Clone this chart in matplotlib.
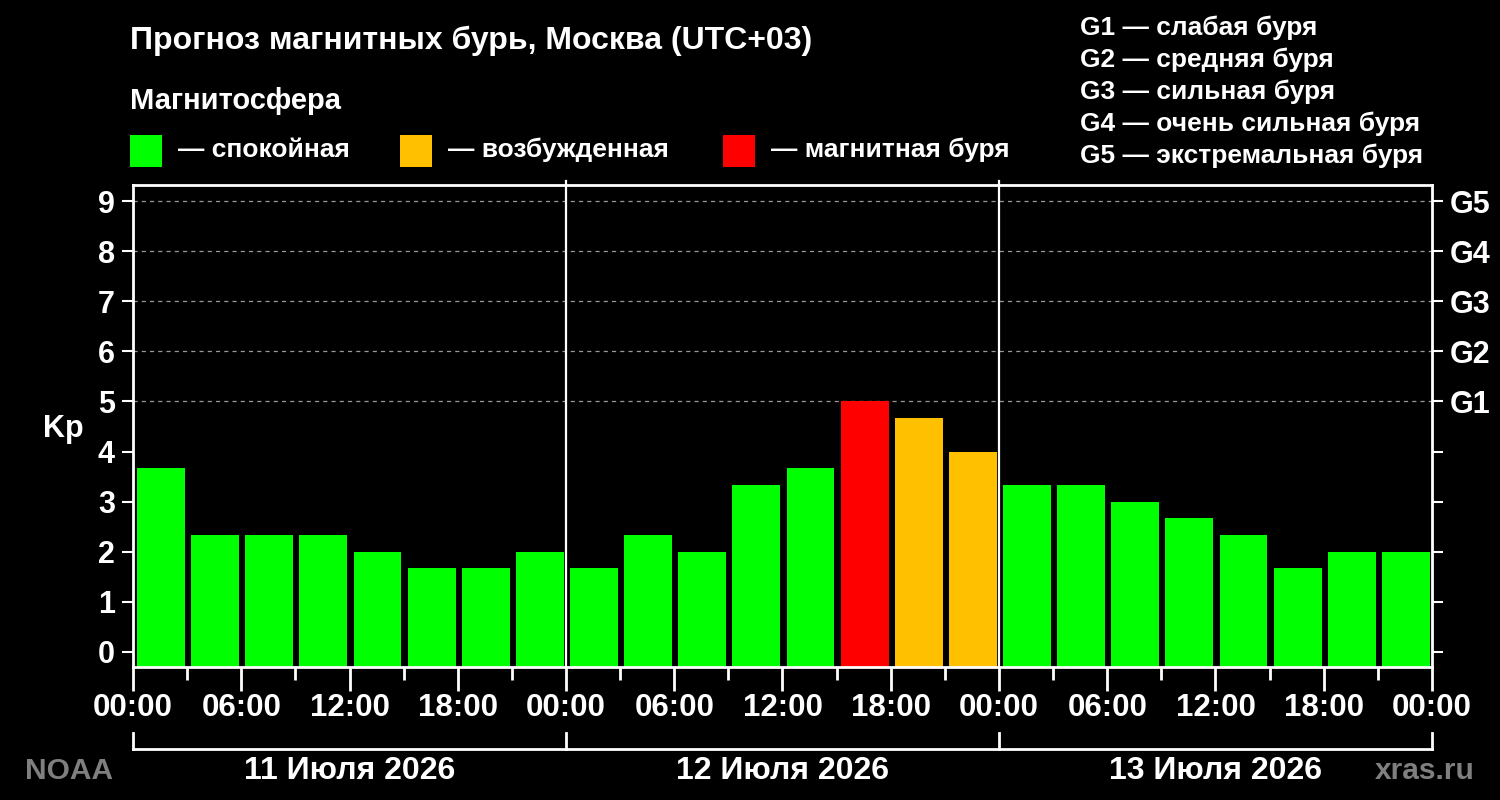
import matplotlib
matplotlib.use("Agg")
import matplotlib.pyplot as plt
from matplotlib import font_manager
from matplotlib.patches import Rectangle
import matplotlib.transforms as mtransforms

# ---- data ----
kp_values = [3.67, 2.33, 2.33, 2.33, 2.0, 1.67, 1.67, 2.0,
             1.67, 2.33, 2.0, 3.33, 3.67, 5.0, 4.67, 4.0,
             3.33, 3.33, 3.0, 2.67, 2.33, 1.67, 2.0, 2.0]
hour_ticks = list(range(0, 73, 6))
hour_labels = ["00:00", "06:00", "12:00", "18:00"] * 3 + ["00:00"]
day_labels = ["11 Июля 2026", "12 Июля 2026", "13 Июля 2026"]
g_levels = [5, 6, 7, 8, 9]
g_labels = ["G1", "G2", "G3", "G4", "G5"]
g_legend = ["G1 — слабая буря", "G2 — средняя буря", "G3 — сильная буря",
            "G4 — очень сильная буря", "G5 — экстремальная буря"]
state_labels = ["— спокойная", "— возбужденная", "— магнитная буря"]
state_colors = ["#00FF00", "#FFC000", "#FF0000"]

available = {f.name for f in font_manager.fontManager.ttflist}
NARROW = "Liberation Sans Narrow" if "Liberation Sans Narrow" in available else "Liberation Sans"
WIDE = "Liberation Sans"
plt.rcParams["font.family"] = [WIDE, "DejaVu Sans"]

def color_for(v):
    if v >= 5:
        return state_colors[2]
    if v >= 4:
        return state_colors[1]
    return state_colors[0]

W, H = 1500, 800
fig = plt.figure(figsize=(15, 8), dpi=100, facecolor="black")

def fx(px):
    return px / W

def fy(py):
    return 1 - py / H

ax = fig.add_axes([fx(133), fy(667), fx(1432) - fx(133), fy(185) - fy(667)])
ax.set_facecolor("black")

step = 72 / len(kp_values)
xs = [step * i + step / 2 + 0.05 for i in range(len(kp_values))]
ax.bar(xs, [v + 0.3 for v in kp_values], bottom=-0.3, width=step * 0.885,
       color=[color_for(v) for v in kp_values], edgecolor="none", zorder=2)

ax.set_xlim(0, 72)
ax.set_ylim(-0.3, 9.32)

for lvl in g_levels:
    ax.axhline(lvl, color="#999999", lw=0.9, ls=(0, (3.3, 3.3)), zorder=1)

blend = mtransforms.blended_transform_factory(ax.transData, ax.transAxes)
for d in (24, 48):
    ax.plot([d, d], [0, 1.008], color="white", lw=1.6, zorder=3,
            transform=blend, clip_on=False)

for s in ax.spines.values():
    s.set_color("white")
    s.set_linewidth(2)

ax.set_xticks(hour_ticks)
ax.set_xticklabels(hour_labels)
ax.set_xticks(list(range(3, 72, 6)), minor=True)
ax.tick_params(axis="x", which="major", length=17, width=2, color="white",
               labelcolor="white", labelsize=22.5, pad=2)
ax.tick_params(axis="x", which="minor", length=9, width=2, color="white")
for t in ax.get_xticklabels():
    t.set_fontfamily([NARROW, "DejaVu Sans"])
    t.set_fontweight("bold")

ax.set_yticks(range(0, 10))
ax.tick_params(axis="y", which="major", length=8, width=1.5, color="white",
               labelcolor="white", labelsize=22, pad=5)
for t in ax.get_yticklabels():
    t.set_fontfamily([NARROW, "DejaVu Sans"])
    t.set_fontweight("bold")

ax2 = ax.twinx()
ax2.set_ylim(ax.get_ylim())
ax2.set_yticks(range(0, 10))
ax2.set_yticklabels(["" if i < 5 else g_labels[i - 5] for i in range(10)])
ax2.tick_params(axis="y", length=8, width=1.5, color="white",
                labelcolor="white", labelsize=22, pad=5)
for t in ax2.get_yticklabels():
    t.set_fontweight("bold")
for s in ax2.spines.values():
    s.set_visible(False)

# day bracket
yb = (667 - 749) / 482
yt = (667 - 733) / 482
ax.plot([0, 72], [yb, yb], color="white", lw=2, transform=blend, clip_on=False)
for d in (0, 24, 48, 72):
    ax.plot([d, d], [yb, yt], color="white", lw=2, transform=blend, clip_on=False)
for i, lab in enumerate(day_labels):
    ax.text(12 + 24 * i, (667 - 771) / 482, lab, transform=blend, ha="center", va="center",
            color="white", fontsize=23, fontweight="bold", family=[NARROW, "DejaVu Sans"])

# texts
fig.text(fx(130), fy(41), "Прогноз магнитных бурь, Москва (UTC+03)", color="white",
         fontsize=23, fontweight="bold", ha="left", va="center", family=[NARROW, "DejaVu Sans"])
fig.text(fx(130), fy(101), "Магнитосфера", color="white",
         fontsize=21, fontweight="bold", ha="left", va="center", family=[NARROW, "DejaVu Sans"])
for (x0, xt), col, lab in zip([(130, 178), (400, 448), (723, 771)], state_colors, state_labels):
    fig.patches.append(Rectangle((fx(x0), fy(167)), fx(32), 32 / H, transform=fig.transFigure,
                                 facecolor=col, edgecolor="none"))
    fig.text(fx(xt), fy(150), lab, color="white", fontsize=19, fontweight="bold",
             ha="left", va="center", family=[NARROW, "DejaVu Sans"])

for i, lab in enumerate(g_legend):
    fig.text(fx(1080), fy(28 + 32 * i), lab, color="white", fontsize=19, fontweight="bold",
             ha="left", va="center")

fig.text(fx(63), fy(429), "Kp", color="white", fontsize=22, fontweight="bold",
         ha="center", va="center")
fig.text(fx(25), fy(771), "NOAA", color="#7f7f7f", fontsize=21.5, fontweight="bold",
         ha="left", va="center", family=[NARROW, "DejaVu Sans"])
fig.text(fx(1475), fy(771), "xras.ru", color="#7f7f7f", fontsize=21.5, fontweight="bold",
         ha="right", va="center")

fig.savefig("out.png", dpi=100, facecolor="black")
